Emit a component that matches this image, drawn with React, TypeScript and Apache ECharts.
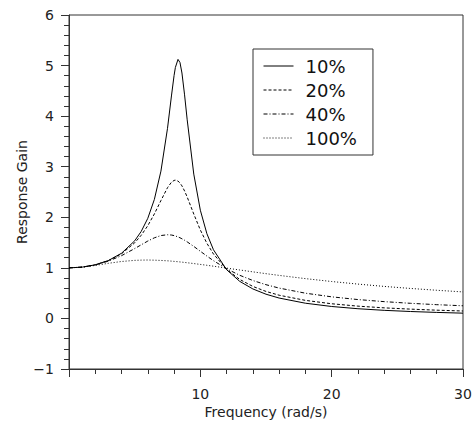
import React, { useEffect, useRef } from "react";
import * as echarts from "echarts";

const freq = [0, 1, 2, 3, 4, 5, 5.5, 6, 6.5, 7, 7.5, 7.8, 8, 8.1, 8.3, 8.45, 8.6, 8.8, 9, 9.5, 10, 10.5, 11, 12, 13, 14, 15, 16, 18, 20, 22, 24, 26, 28, 30];

const gain10 = [1, 1.014, 1.06, 1.145, 1.289, 1.534, 1.721, 1.98, 2.353, 2.913, 3.759, 4.399, 4.803, 4.963, 5.122, 5.061, 4.853, 4.421, 3.927, 2.854, 2.14, 1.675, 1.358, 0.964, 0.733, 0.583, 0.479, 0.403, 0.301, 0.236, 0.192, 0.16, 0.137, 0.119, 0.104];
const gain20 = [1, 1.014, 1.06, 1.143, 1.278, 1.494, 1.645, 1.834, 2.066, 2.331, 2.585, 2.693, 2.729, 2.734, 2.716, 2.678, 2.621, 2.52, 2.4, 2.065, 1.749, 1.486, 1.274, 0.97, 0.771, 0.633, 0.534, 0.459, 0.357, 0.29, 0.243, 0.209, 0.184, 0.163, 0.147];
const gain40 = [1, 1.014, 1.058, 1.133, 1.241, 1.381, 1.456, 1.53, 1.594, 1.639, 1.655, 1.649, 1.638, 1.63, 1.612, 1.595, 1.575, 1.546, 1.514, 1.424, 1.328, 1.233, 1.142, 0.982, 0.853, 0.75, 0.667, 0.6, 0.499, 0.427, 0.373, 0.332, 0.299, 0.272, 0.25];
const gain100 = [1, 1.014, 1.048, 1.09, 1.126, 1.148, 1.153, 1.155, 1.152, 1.147, 1.139, 1.133, 1.128, 1.126, 1.121, 1.117, 1.113, 1.107, 1.101, 1.085, 1.068, 1.051, 1.033, 0.995, 0.958, 0.921, 0.885, 0.851, 0.787, 0.73, 0.679, 0.633, 0.593, 0.557, 0.524];

const seriesNames = ["10%", "20%", "40%", "100%"];
const xTicksShown = [10, 20, 30];

const pair = (ys: number[]) => freq.map((x, i) => [x, ys[i]]);

export default function App() {
  const ref = useRef<HTMLDivElement>(null);
  useEffect(() => {
    if (!ref.current) return;
    const chart = echarts.init(ref.current, undefined, { renderer: "svg" });
    const font = "DejaVu Sans";
    const axisColor = "#333";
    const dashes: any[] = ["solid", [3, 2], [4, 2, 1, 2], [1, 2]];
    const datas = [gain10, gain20, gain40, gain100];
    chart.setOption({
      animation: false,
      backgroundColor: "#fff",
      textStyle: { fontFamily: font },
      grid: {
        left: 69,
        top: 15,
        right: 9,
        bottom: 55,
        containLabel: false,
        outerBoundsMode: "none",
        show: true,
        borderColor: axisColor,
        borderWidth: 1,
        backgroundColor: "transparent",
      },
      legend: {
        orient: "vertical",
        left: 253,
        top: 49,
        data: seriesNames,
        borderColor: axisColor,
        borderWidth: 1,
        borderRadius: 0,
        padding: [8, 16, 8, 10],
        itemWidth: 30,
        itemHeight: 14,
        itemGap: 6,
        itemStyle: { opacity: 0 },
        lineStyle: { width: 1 },
        textStyle: { fontSize: 18, color: "#111", fontFamily: font, padding: [0, 0, 0, 7] },
      },
      xAxis: {
        type: "value",
        min: 0,
        max: 30,
        interval: 10,
        name: "Frequency (rad/s)",
        nameLocation: "middle",
        nameGap: 36,
        nameMoveOverlap: false,
        nameTextStyle: { fontSize: 14, color: "#222", fontFamily: font },
        axisLine: { show: true, onZero: false, lineStyle: { color: axisColor, width: 1 } },
        axisTick: { show: true, length: 8, inside: false, lineStyle: { color: axisColor } },
        minorTick: { show: true, splitNumber: 5, length: 5, lineStyle: { color: axisColor } },
        splitLine: { show: false },
        axisLabel: {
          fontSize: 14,
          color: "#222",
          margin: 18,
          fontFamily: font,
          formatter: (v: number) => (xTicksShown.includes(v) ? String(v) : ""),
        },
      },
      yAxis: {
        type: "value",
        min: -1,
        max: 6,
        interval: 1,
        name: "Response Gain",
        nameLocation: "middle",
        nameGap: 40,
        nameMoveOverlap: false,
        nameTextStyle: { fontSize: 14, color: "#222", fontFamily: font },
        axisLine: { show: true, onZero: false, lineStyle: { color: axisColor, width: 1 } },
        axisTick: { show: true, length: 8, inside: false, lineStyle: { color: axisColor } },
        minorTick: { show: true, splitNumber: 5, length: 5, lineStyle: { color: axisColor } },
        splitLine: { show: false },
        axisLabel: {
          fontSize: 14,
          color: "#222",
          margin: 15,
          fontFamily: font,
          formatter: (v: number) => (v < 0 ? "\u2212" + Math.abs(v) : String(v)),
        },
      },
      series: datas.map((d, i) => ({
        name: seriesNames[i],
        type: "line",
        data: pair(d),
        symbol: "none",
        showSymbol: false,
        smooth: false,
        clip: true,
        lineStyle: { color: "#000", width: 1, type: dashes[i] },
        itemStyle: { color: "#000" },
      })),
    });
    return () => chart.dispose();
  }, []);
  return <div ref={ref} style={{ width: 472, height: 424, position: "absolute", left: 0, top: 0 }} />;
}
